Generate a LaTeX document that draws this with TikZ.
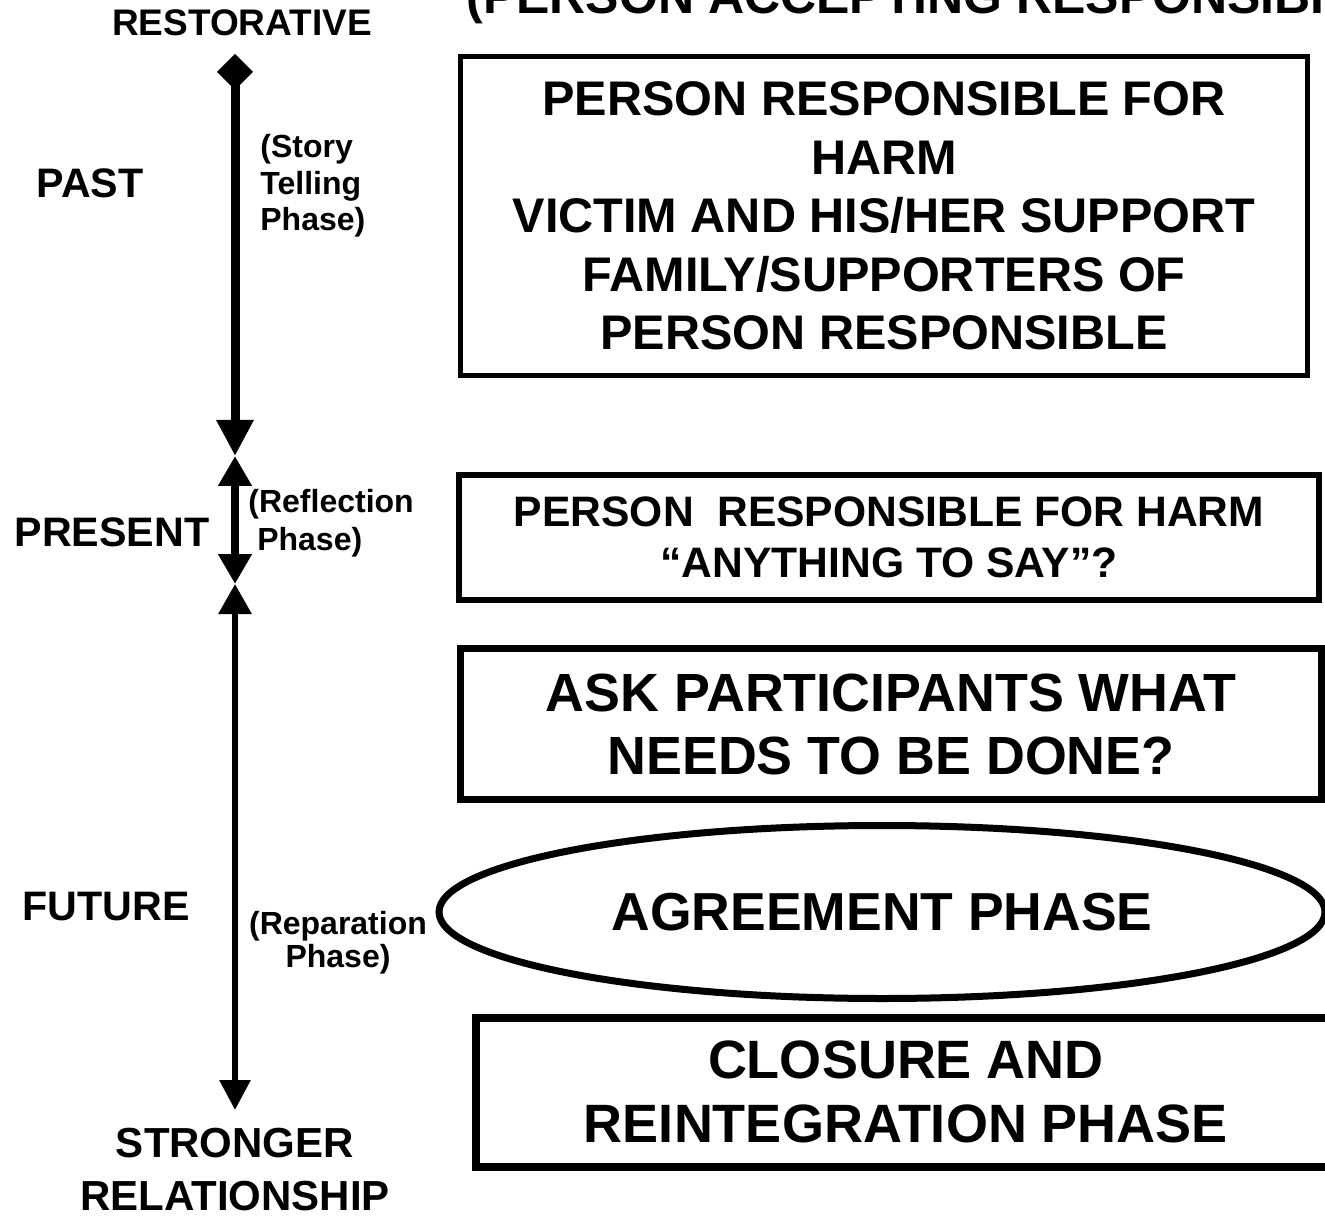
\documentclass[tikz,border=0pt]{standalone}
\usepackage{fontspec}
\setmainfont{Liberation Sans}
\usetikzlibrary{arrows.meta,shapes.geometric}
\begin{document}
\begin{tikzpicture}[x=0.5pt,y=-0.5pt,
  framebox/.style={draw,line width=#1,rectangle,align=center,inner sep=0pt},
  side/.style={inner sep=0pt,font=\bfseries\fontsize{20.6}{25}\selectfont},
  phase/.style={inner sep=0pt,font=\bfseries\fontsize{16}{18}\selectfont}]
\useasboundingbox (0,0) rectangle (1325,1218);
\clip (0,0) rectangle (1325,1218);
\fill[white] (0,0) rectangle (1325,1218);

% top cut-off title
\node[anchor=base west,inner sep=0pt,font=\bfseries\fontsize{25}{30}\selectfont] (title) at (466,14) {(PERSON ACCEPTING RESPONSIBILITY)};

% boxes
\node[framebox=2.5pt,minimum width=423.5pt,minimum height=159.5pt,font=\bfseries\fontsize{24.3}{29.2}\selectfont] (b1) at (884,216)
 {PERSON RESPONSIBLE FOR\\HARM\\VICTIM AND HIS/HER SUPPORT\\FAMILY/SUPPORTERS OF\\PERSON RESPONSIBLE};
\node[framebox=3pt,minimum width=430pt,minimum height=62.5pt,font=\bfseries\fontsize{21.3}{25.5}\selectfont] (b2) at (889,537.5)
 {PERSON\ \ RESPONSIBLE FOR HARM\\“ANYTHING TO SAY”?};
\node[framebox=3.5pt,minimum width=430.5pt,minimum height=75.5pt,font=\bfseries\fontsize{26.9}{31.5}\selectfont] (b3) at (891,724)
 {ASK PARTICIPANTS WHAT\\NEEDS TO BE DONE?};
\node[draw,ellipse,line width=3.5pt,inner sep=0pt,minimum width=443pt,minimum height=86.5pt,font=\bfseries\fontsize{26.75}{32}\selectfont] (b4) at (882,912)
 {AGREEMENT PHASE};
\node[framebox=4pt,minimum width=430pt,minimum height=74.5pt,font=\bfseries\fontsize{27}{32}\selectfont] (b5) at (906,1092)
 {CLOSURE AND\\REINTEGRATION PHASE};

% left labels
\node[side,font=\bfseries\fontsize{18.5}{22}\selectfont] (rest) at (242,23) {RESTORATIVE};
\node[side] (past) at (90,183) {PAST};
\node[side] (present) at (112,532) {PRESENT};
\node[side] (future) at (106,907) {FUTURE};
\node[side,align=center,font=\bfseries\fontsize{21}{26.5}\selectfont] (strong) at (235,1170) {STRONGER\\RELATIONSHIP};

\node[phase,align=left,anchor=west,font=\bfseries\fontsize{16}{18.3}\selectfont] (story) at (260,186) {(Story\\Telling\\Phase)};
\node[phase,align=left,anchor=west,font=\bfseries\fontsize{16}{19}\selectfont] (refl) at (248,523) {(Reflection\\\hspace*{0.278em}Phase)};
\node[phase,align=center,font=\bfseries\fontsize{16}{16.5}\selectfont] (repa) at (338,943) {(Reparation\\Phase)};

% time axis
\coordinate (ptop) at (235,54);
\coordinate (pm1) at (235,456);
\coordinate (pm2) at (235,584);
\coordinate (pbot) at (235,1110);
\draw[line width=4.5pt,{Diamond[length=18pt,width=18pt]}-{Triangle[length=18pt,width=17.5pt]}] (ptop) -- (pm1);
\draw[line width=4pt,{Triangle[length=15pt,width=16pt]}-{Triangle[length=15pt,width=16pt]}] (pm1) -- (pm2);
\draw[line width=3pt,{Triangle[length=15pt,width=16pt]}-{Triangle[length=15pt,width=15pt]}] (pm2) -- (pbot);
\end{tikzpicture}
\end{document}
